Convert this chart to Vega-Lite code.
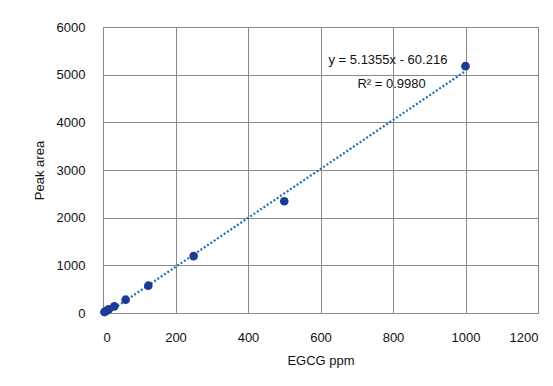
{
  "$schema": "https://vega.github.io/schema/vega-lite/v6.json",
  "width": 435,
  "height": 286,
  "autosize": {"type": "none"},
  "padding": {"left": 103, "top": 27, "right": 15, "bottom": 73},
  "background": "white",
  "config": {
    "font": "Liberation Sans",
    "view": {"stroke": "#8a8a8a", "strokeWidth": 1},
    "axis": {
      "grid": true,
      "gridColor": "#8a8a8a",
      "gridWidth": 1,
      "gridOpacity": 1,
      "domain": false,
      "ticks": false,
      "labelFontSize": 13,
      "labelColor": "#111",
      "labelFont": "Liberation Sans",
      "titleFont": "Liberation Sans",
      "titleFontSize": 13,
      "titleFontWeight": "normal",
      "titleColor": "#111",
      "format": "d"
    }
  },
  "layer": [
    {
      "data": {"values": [{"x": 3.9, "y": -40.2}, {"x": 1000, "y": 5075.3}]},
      "mark": {"type": "line", "color": "#1f6fb5", "strokeWidth": 2.2, "strokeDash": [2, 2]},
      "encoding": {
        "x": {"field": "x", "type": "quantitative", "scale": {"domain": [0, 1200]}, "axis": {"values": [0, 200, 400, 600, 800, 1000, 1200], "format": "d", "title": "EGCG ppm", "labelPadding": 18, "titlePadding": 10}},
        "y": {"field": "y", "type": "quantitative", "scale": {"domain": [0, 6000]}, "axis": {"values": [0, 1000, 2000, 3000, 4000, 5000, 6000], "format": "d", "title": "Peak area", "labelPadding": 18, "titlePadding": 10}}
      }
    },
    {
      "data": {"values": [
        {"x": 3.9, "y": 20},
        {"x": 7.8, "y": 40},
        {"x": 15.6, "y": 75},
        {"x": 31.25, "y": 140},
        {"x": 62.5, "y": 279},
        {"x": 125, "y": 573},
        {"x": 250, "y": 1194},
        {"x": 500, "y": 2345},
        {"x": 1000, "y": 5178}
      ]},
      "mark": {"type": "point", "filled": true, "color": "#1c3c94", "opacity": 1, "size": 75},
      "encoding": {
        "x": {"field": "x", "type": "quantitative"},
        "y": {"field": "y", "type": "quantitative"}
      }
    },
    {
      "data": {"values": [
        {"x": 786, "y": 5308, "label": "y = 5.1355x - 60.216"},
        {"x": 796, "y": 4804, "label": "R² = 0.9980"}
      ]},
      "mark": {"type": "text", "fontSize": 13, "color": "#111", "font": "Liberation Sans"},
      "encoding": {
        "x": {"field": "x", "type": "quantitative"},
        "y": {"field": "y", "type": "quantitative"},
        "text": {"field": "label"}
      }
    }
  ]
}
